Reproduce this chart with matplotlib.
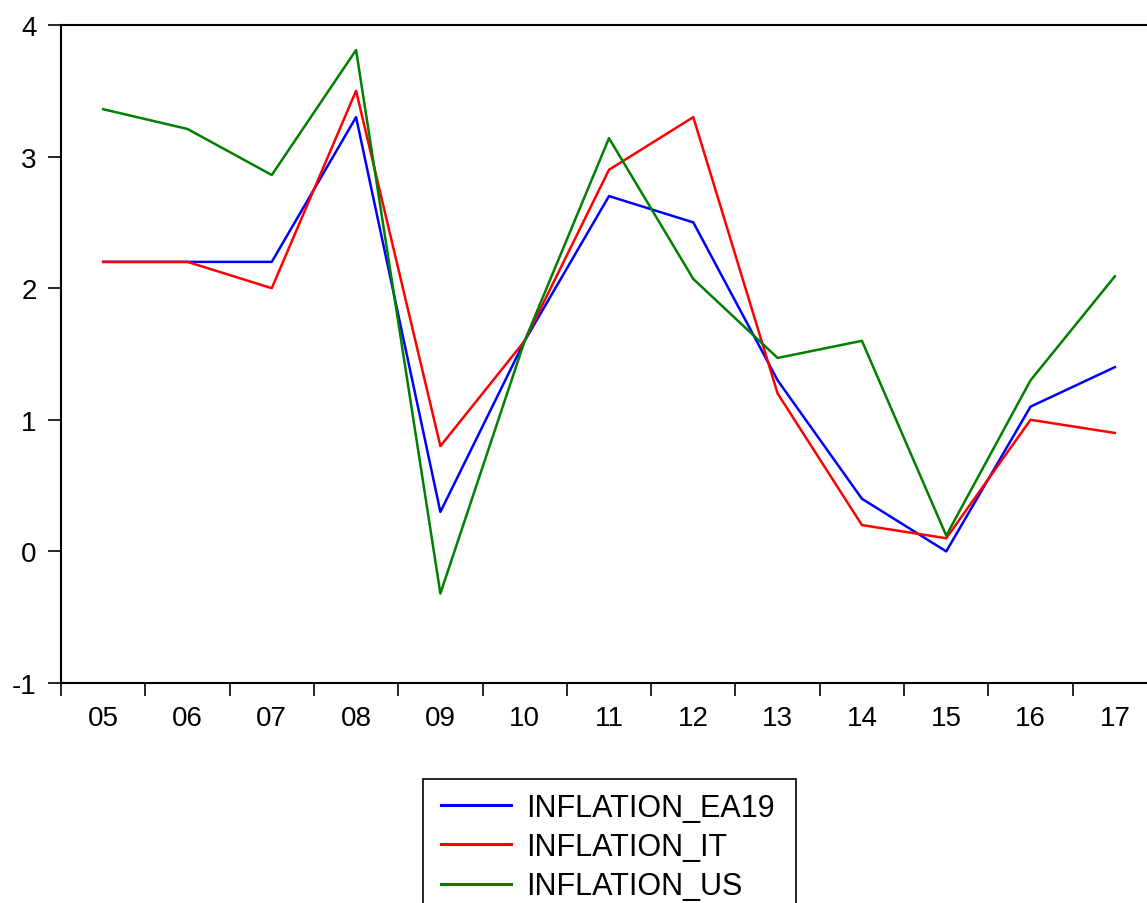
import numpy as np
import matplotlib.pyplot as plt
from matplotlib.patches import Rectangle

plt.rcParams['font.family'] = ['Liberation Sans', 'DejaVu Sans']
plt.rcParams['axes.unicode_minus'] = False

years = ['05', '06', '07', '08', '09', '10', '11', '12', '13', '14', '15', '16', '17']
ea19 = [2.2, 2.2, 2.2, 3.3, 0.3, 1.6, 2.7, 2.5, 1.3, 0.4, 0.0, 1.1, 1.4]
it = [2.2, 2.2, 2.0, 3.5, 0.8, 1.6, 2.9, 3.3, 1.2, 0.2, 0.1, 1.0, 0.9]
us = [3.36, 3.21, 2.86, 3.81, -0.32, 1.60, 3.14, 2.07, 1.47, 1.60, 0.12, 1.30, 2.09]

W, H = 1147, 904
fig = plt.figure(figsize=(W / 100, H / 100), dpi=100)
ax = fig.add_axes([61/W, 1 - 684/H, 1096/W, 658/H])

x = np.arange(len(years))
ax.plot(x, ea19, color='#0000ff', lw=1.8, label='INFLATION_EA19')
ax.plot(x, it, color='#ff0000', lw=1.8, label='INFLATION_IT')
ax.plot(x, us, color='#008000', lw=1.8, label='INFLATION_US')

ax.set_xlim(-0.5, len(years) - 0.5)
ax.set_ylim(-1, 4)
ax.set_yticks([-1, 0, 1, 2, 3, 4])
ax.tick_params(axis='y', length=9.5, width=1.2, pad=8, labelsize=20)

# year labels at centers, tick marks at boundaries
ax.set_xticks(x)
ax.set_xticklabels(years)
ax.set_xticks(np.arange(-0.5, len(years), 1.0), minor=True)
ax.tick_params(axis='x', which='major', length=0, pad=16, labelsize=20)
ax.tick_params(axis='x', which='minor', length=9.5, width=1.2)

ax.spines['right'].set_visible(False)
for s in ['left', 'top', 'bottom']:
    ax.spines[s].set_linewidth(1.5)

# legend box (runs off the bottom of the picture)
fig.patches.append(Rectangle((423/W, -0.1), (796 - 423)/W, 0.1 + 1 - 780/H,
                             transform=fig.transFigure, fill=False,
                             edgecolor='black', linewidth=1.2, clip_on=False))
leg = fig.legend(loc='upper left', bbox_to_anchor=(441/W, 1 - 794/H),
                 fontsize=22, frameon=False, handlelength=2.3,
                 handletextpad=0.5, labelspacing=0.3, borderpad=0,
                 borderaxespad=0)
for line in leg.get_lines():
    line.set_linewidth(2.2)

fig.savefig('out.png', dpi=100)
